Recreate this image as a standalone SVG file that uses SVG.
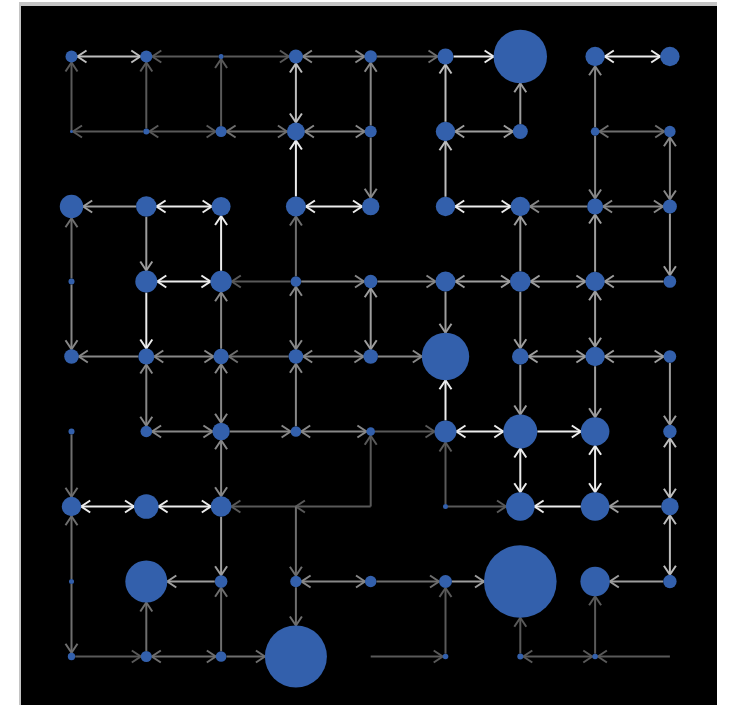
<svg xmlns="http://www.w3.org/2000/svg" width="731" height="705" viewBox="0 0 731 705">
  <style>
    line { stroke-width: 2; fill: none; }
    .g0 { stroke: #595959; marker-end: url(#m0); }
    .g1 { stroke: #6e6e6e; marker-end: url(#m1); }
    .g2 { stroke: #878787; marker-end: url(#m2); }
    .g3 { stroke: #9d9d9d; marker-end: url(#m3); }
    .g4 { stroke: #bdbdbd; marker-end: url(#m4); }
    .g5 { stroke: #ececec; marker-end: url(#m5); }
    .g0.b { marker-start: url(#m0); }
    .g1.b { marker-start: url(#m1); }
    .g2.b { marker-start: url(#m2); }
    .g3.b { marker-start: url(#m3); }
    .g4.b { marker-start: url(#m4); }
    .g5.b { marker-start: url(#m5); }
    .node circle { fill: #3360ac; }
    .ah { fill: none; stroke-width: 2; }
  </style>
  <defs>
    <marker id="m0" viewBox="-11 -8 13 16" markerWidth="13" markerHeight="16" refX="0" refY="0" orient="auto-start-reverse" markerUnits="userSpaceOnUse"><path class="ah" d="M-9,-6 L0,0 L-9,6" stroke="#595959"/></marker>
    <marker id="m1" viewBox="-11 -8 13 16" markerWidth="13" markerHeight="16" refX="0" refY="0" orient="auto-start-reverse" markerUnits="userSpaceOnUse"><path class="ah" d="M-9,-6 L0,0 L-9,6" stroke="#6e6e6e"/></marker>
    <marker id="m2" viewBox="-11 -8 13 16" markerWidth="13" markerHeight="16" refX="0" refY="0" orient="auto-start-reverse" markerUnits="userSpaceOnUse"><path class="ah" d="M-9,-6 L0,0 L-9,6" stroke="#878787"/></marker>
    <marker id="m3" viewBox="-11 -8 13 16" markerWidth="13" markerHeight="16" refX="0" refY="0" orient="auto-start-reverse" markerUnits="userSpaceOnUse"><path class="ah" d="M-9,-6 L0,0 L-9,6" stroke="#9d9d9d"/></marker>
    <marker id="m4" viewBox="-11 -8 13 16" markerWidth="13" markerHeight="16" refX="0" refY="0" orient="auto-start-reverse" markerUnits="userSpaceOnUse"><path class="ah" d="M-9,-6 L0,0 L-9,6" stroke="#bdbdbd"/></marker>
    <marker id="m5" viewBox="-11 -8 13 16" markerWidth="13" markerHeight="16" refX="0" refY="0" orient="auto-start-reverse" markerUnits="userSpaceOnUse"><path class="ah" d="M-9,-6 L0,0 L-9,6" stroke="#ececec"/></marker>
  </defs>

  <!-- frame -->
  <rect x="0" y="0" width="731" height="705" fill="#ffffff"/>
  <rect x="19" y="2" width="698" height="703" fill="#c4c4c4"/>
  <rect x="21" y="6" width="696" height="699" fill="#000000"/>

  <g id="connectors">
    <!-- row 0 -->
    <line class="g4 b" x1="77.5" y1="56.5" x2="140.3" y2="56.5"/>
    <line class="g0" x1="218.6" y1="56.5" x2="152.3" y2="56.5"/>
    <line class="g0" x1="223.6" y1="56.5" x2="288.9" y2="56.5"/>
    <line class="g2 b" x1="302.9" y1="56.5" x2="364.4" y2="56.5"/>
    <line class="g1" x1="377" y1="56.5" x2="437.5" y2="56.5"/>
    <line class="g5" x1="453.5" y1="56.5" x2="493.6" y2="56.5"/>
    <line class="g5 b" x1="604.8" y1="56.5" x2="660.2" y2="56.5"/>
    <!-- rows 0-1 vertical -->
    <line class="g0" x1="71.5" y1="131.5" x2="71.5" y2="62.5"/>
    <line class="g0" x1="146.3" y1="128.5" x2="146.3" y2="62.5"/>
    <line class="g0" x1="221.1" y1="126" x2="221.1" y2="59"/>
    <line class="g4 b" x1="295.9" y1="63.5" x2="295.9" y2="122.5"/>
    <line class="g2" x1="370.7" y1="125.5" x2="370.7" y2="62.8"/>
    <line class="g4" x1="445.5" y1="121.8" x2="445.5" y2="64.5"/>
    <line class="g3" x1="520.3" y1="124" x2="520.3" y2="83.2"/>
    <line class="g2" x1="595.1" y1="127.2" x2="595.1" y2="66.2"/>
    <!-- row 1 -->
    <line class="g0" x1="143.3" y1="131.5" x2="73" y2="131.5"/>
    <line class="g0 b" x1="149.3" y1="131.5" x2="215.6" y2="131.5"/>
    <line class="g1 b" x1="226.6" y1="131.5" x2="286.9" y2="131.5"/>
    <line class="g2 b" x1="304.9" y1="131.5" x2="364.7" y2="131.5"/>
    <line class="g3 b" x1="455.2" y1="131.5" x2="512.8" y2="131.5"/>
    <line class="g1 b" x1="599.4" y1="131.5" x2="664.2" y2="131.5"/>
    <!-- rows 1-2 vertical -->
    <line class="g5" x1="295.9" y1="196.5" x2="295.9" y2="140.5"/>
    <line class="g2" x1="370.7" y1="137.5" x2="370.7" y2="197.8"/>
    <line class="g4" x1="445.5" y1="196.8" x2="445.5" y2="141.2"/>
    <line class="g2" x1="595.1" y1="135.8" x2="595.1" y2="198.5"/>
    <line class="g2 b" x1="669.9" y1="137.2" x2="669.9" y2="199.5"/>
    <!-- row 2 -->
    <line class="g3" x1="136" y1="206.5" x2="83.2" y2="206.5"/>
    <line class="g5 b" x1="156.6" y1="206.5" x2="211.6" y2="206.5"/>
    <line class="g5 b" x1="305.9" y1="206.5" x2="362" y2="206.5"/>
    <line class="g5 b" x1="455.2" y1="206.5" x2="510.6" y2="206.5"/>
    <line class="g2" x1="587.1" y1="206.5" x2="530" y2="206.5"/>
    <line class="g2 b" x1="603.1" y1="206.5" x2="662.9" y2="206.5"/>
    <!-- rows 2-3 vertical -->
    <line class="g1" x1="71.5" y1="278.5" x2="71.5" y2="218.2"/>
    <line class="g3" x1="146.3" y1="216.8" x2="146.3" y2="270.5"/>
    <line class="g5" x1="221.1" y1="270.8" x2="221.1" y2="216"/>
    <line class="g1" x1="295.9" y1="276.2" x2="295.9" y2="216.5"/>
    <line class="g3" x1="520.3" y1="271.2" x2="520.3" y2="216.2"/>
    <line class="g3" x1="595.1" y1="271.8" x2="595.1" y2="214.5"/>
    <line class="g3" x1="669.9" y1="213.5" x2="669.9" y2="275.2"/>
    <!-- row 3 -->
    <line class="g5 b" x1="157.3" y1="281.5" x2="210.4" y2="281.5"/>
    <line class="g0" x1="290.6" y1="281.5" x2="231.8" y2="281.5"/>
    <line class="g2" x1="301.2" y1="281.5" x2="364" y2="281.5"/>
    <line class="g2" x1="377.4" y1="281.5" x2="435.5" y2="281.5"/>
    <line class="g3 b" x1="455.5" y1="281.5" x2="510" y2="281.5"/>
    <line class="g3 b" x1="530.6" y1="281.5" x2="585.4" y2="281.5"/>
    <line class="g3" x1="663.6" y1="281.5" x2="604.8" y2="281.5"/>
    <!-- rows 3-4 vertical -->
    <line class="g2" x1="71.5" y1="284.5" x2="71.5" y2="349.2"/>
    <line class="g5" x1="146.3" y1="292.5" x2="146.3" y2="348.5"/>
    <line class="g2" x1="221.1" y1="348.8" x2="221.1" y2="292.2"/>
    <line class="g2 b" x1="295.9" y1="286.8" x2="295.9" y2="349.2"/>
    <line class="g3 b" x1="370.7" y1="288.2" x2="370.7" y2="349.2"/>
    <line class="g3" x1="445.5" y1="291.5" x2="445.5" y2="332.8"/>
    <line class="g3" x1="520.3" y1="291.8" x2="520.3" y2="348.2"/>
    <line class="g3 b" x1="595.1" y1="291.2" x2="595.1" y2="346.8"/>
    <!-- row 4 -->
    <line class="g2" x1="138.3" y1="356.5" x2="78.8" y2="356.5"/>
    <line class="g2 b" x1="154.3" y1="356.5" x2="213.4" y2="356.5"/>
    <line class="g1" x1="288.6" y1="356.5" x2="228.8" y2="356.5"/>
    <line class="g2 b" x1="303.2" y1="356.5" x2="363.4" y2="356.5"/>
    <line class="g2" x1="378" y1="356.5" x2="421.8" y2="356.5"/>
    <line class="g3 b" x1="528.6" y1="356.5" x2="585.4" y2="356.5"/>
    <line class="g3 b" x1="604.8" y1="356.5" x2="663.6" y2="356.5"/>
    <!-- rows 4-5 vertical -->
    <line class="g2 b" x1="146.3" y1="364.5" x2="146.3" y2="425.7"/>
    <line class="g2 b" x1="221.1" y1="364.2" x2="221.1" y2="422.8"/>
    <line class="g2" x1="295.9" y1="426.2" x2="295.9" y2="363.8"/>
    <line class="g5" x1="445.5" y1="420.5" x2="445.5" y2="380.2"/>
    <line class="g3" x1="520.3" y1="364.8" x2="520.3" y2="414.5"/>
    <line class="g3" x1="595.1" y1="366.2" x2="595.1" y2="417.2"/>
    <line class="g3" x1="669.9" y1="362.8" x2="669.9" y2="424.8"/>
    <!-- row 5 -->
    <line class="g2 b" x1="152.1" y1="431.5" x2="212.4" y2="431.5"/>
    <line class="g2" x1="229.8" y1="431.5" x2="290.6" y2="431.5"/>
    <line class="g2 b" x1="301.2" y1="431.5" x2="366.4" y2="431.5"/>
    <line class="g0" x1="375" y1="431.5" x2="434.5" y2="431.5"/>
    <line class="g5 b" x1="456.5" y1="431.5" x2="503.3" y2="431.5"/>
    <line class="g5" x1="537.3" y1="431.5" x2="580.8" y2="431.5"/>
    <!-- rows 5-6 vertical -->
    <line class="g1" x1="71.5" y1="434.5" x2="71.5" y2="496.8"/>
    <line class="g2 b" x1="221.1" y1="440.2" x2="221.1" y2="496.2"/>
    <line class="g0" x1="370.7" y1="506.5" x2="370.7" y2="435.8"/>
    <line class="g0" x1="445.5" y1="504" x2="445.5" y2="442.5"/>
    <line class="g5 b" x1="520.3" y1="448.5" x2="520.3" y2="492.2"/>
    <line class="g5 b" x1="595.1" y1="445.8" x2="595.1" y2="492.2"/>
    <line class="g4 b" x1="669.9" y1="438.2" x2="669.9" y2="497.8"/>
    <!-- row 6 -->
    <line class="g5 b" x1="81.2" y1="506.5" x2="134" y2="506.5"/>
    <line class="g5 b" x1="158.6" y1="506.5" x2="210.8" y2="506.5"/>
    <line class="g0" x1="295.9" y1="506.5" x2="231.4" y2="506.5"/>
    <line class="g0" x1="370.7" y1="506.5" x2="295.9" y2="506.5"/>
    <line class="g0" x1="448" y1="506.5" x2="506" y2="506.5"/>
    <line class="g5" x1="580.8" y1="506.5" x2="534.6" y2="506.5"/>
    <line class="g3" x1="661.2" y1="506.5" x2="609.4" y2="506.5"/>
    <!-- rows 6-7 vertical -->
    <line class="g1" x1="71.5" y1="579" x2="71.5" y2="516.2"/>
    <line class="g3" x1="221.1" y1="516.8" x2="221.1" y2="575.2"/>
    <line class="g1" x1="295.9" y1="506.5" x2="295.9" y2="575.8"/>
    <line class="g4 b" x1="669.9" y1="515.2" x2="669.9" y2="574.8"/>
    <!-- row 7 -->
    <line class="g3" x1="214.8" y1="581.5" x2="167.3" y2="581.5"/>
    <line class="g2 b" x1="301.6" y1="581.5" x2="365" y2="581.5"/>
    <line class="g1" x1="376.4" y1="581.5" x2="439" y2="581.5"/>
    <line class="g3" x1="452" y1="581.5" x2="484" y2="581.5"/>
    <line class="g3" x1="663.2" y1="581.5" x2="609.8" y2="581.5"/>
    <!-- rows 7-8 vertical -->
    <line class="g1" x1="71.5" y1="584" x2="71.5" y2="652.8"/>
    <line class="g1" x1="146.3" y1="651" x2="146.3" y2="602.5"/>
    <line class="g1" x1="221.1" y1="651.2" x2="221.1" y2="587.8"/>
    <line class="g1" x1="295.9" y1="587.2" x2="295.9" y2="625.5"/>
    <line class="g0" x1="445.5" y1="653.7" x2="445.5" y2="588"/>
    <line class="g0" x1="520.3" y1="653.5" x2="520.3" y2="617.8"/>
    <line class="g0" x1="595.1" y1="653.7" x2="595.1" y2="596.2"/>
    <!-- row 8 -->
    <line class="g0" x1="75.2" y1="656.5" x2="140.8" y2="656.5"/>
    <line class="g1 b" x1="151.8" y1="656.5" x2="215.8" y2="656.5"/>
    <line class="g1" x1="226.4" y1="656.5" x2="264.9" y2="656.5"/>
    <line class="g0" x1="370.7" y1="656.5" x2="442.7" y2="656.5"/>
    <line class="g0 b" x1="523.3" y1="656.5" x2="592.3" y2="656.5"/>
    <line class="g0" x1="669.9" y1="656.5" x2="597.9" y2="656.5"/>
  </g>

  <!-- nodes: n{column}{row} -->
  <g id="n00" class="node"><circle cx="71.5" cy="56.5" r="6"/></g>
  <g id="n10" class="node"><circle cx="146.3" cy="56.5" r="6"/></g>
  <g id="n20" class="node"><circle cx="221.1" cy="56.5" r="2.5"/></g>
  <g id="n30" class="node"><circle cx="295.9" cy="56.5" r="7"/></g>
  <g id="n40" class="node"><circle cx="370.7" cy="56.5" r="6.3"/></g>
  <g id="n50" class="node"><circle cx="445.5" cy="56.5" r="8"/></g>
  <g id="n60" class="node"><circle cx="520.3" cy="56.5" r="26.7"/></g>
  <g id="n70" class="node"><circle cx="595.1" cy="56.5" r="9.7"/></g>
  <g id="n80" class="node"><circle cx="669.9" cy="56.5" r="9.7"/></g>

  <g id="n01" class="node"><circle cx="71.5" cy="131.5" r="1.5"/></g>
  <g id="n11" class="node"><circle cx="146.3" cy="131.5" r="3"/></g>
  <g id="n21" class="node"><circle cx="221.1" cy="131.5" r="5.5"/></g>
  <g id="n31" class="node"><circle cx="295.9" cy="131.5" r="9"/></g>
  <g id="n41" class="node"><circle cx="370.7" cy="131.5" r="6"/></g>
  <g id="n51" class="node"><circle cx="445.5" cy="131.5" r="9.7"/></g>
  <g id="n61" class="node"><circle cx="520.3" cy="131.5" r="7.5"/></g>
  <g id="n71" class="node"><circle cx="595.1" cy="131.5" r="4.3"/></g>
  <g id="n81" class="node"><circle cx="669.9" cy="131.5" r="5.7"/></g>

  <g id="n02" class="node"><circle cx="71.5" cy="206.5" r="11.7"/></g>
  <g id="n12" class="node"><circle cx="146.3" cy="206.5" r="10.3"/></g>
  <g id="n22" class="node"><circle cx="221.1" cy="206.5" r="9.5"/></g>
  <g id="n32" class="node"><circle cx="295.9" cy="206.5" r="10"/></g>
  <g id="n42" class="node"><circle cx="370.7" cy="206.5" r="8.7"/></g>
  <g id="n52" class="node"><circle cx="445.5" cy="206.5" r="9.7"/></g>
  <g id="n62" class="node"><circle cx="520.3" cy="206.5" r="9.7"/></g>
  <g id="n72" class="node"><circle cx="595.1" cy="206.5" r="8"/></g>
  <g id="n82" class="node"><circle cx="669.9" cy="206.5" r="7"/></g>

  <g id="n03" class="node"><circle cx="71.5" cy="281.5" r="3"/></g>
  <g id="n13" class="node"><circle cx="146.3" cy="281.5" r="11"/></g>
  <g id="n23" class="node"><circle cx="221.1" cy="281.5" r="10.7"/></g>
  <g id="n33" class="node"><circle cx="295.9" cy="281.5" r="5.3"/></g>
  <g id="n43" class="node"><circle cx="370.7" cy="281.5" r="6.7"/></g>
  <g id="n53" class="node"><circle cx="445.5" cy="281.5" r="10"/></g>
  <g id="n63" class="node"><circle cx="520.3" cy="281.5" r="10.3"/></g>
  <g id="n73" class="node"><circle cx="595.1" cy="281.5" r="9.7"/></g>
  <g id="n83" class="node"><circle cx="669.9" cy="281.5" r="6.3"/></g>

  <g id="n04" class="node"><circle cx="71.5" cy="356.5" r="7.3"/></g>
  <g id="n14" class="node"><circle cx="146.3" cy="356.5" r="8"/></g>
  <g id="n24" class="node"><circle cx="221.1" cy="356.5" r="7.7"/></g>
  <g id="n34" class="node"><circle cx="295.9" cy="356.5" r="7.3"/></g>
  <g id="n44" class="node"><circle cx="370.7" cy="356.5" r="7.3"/></g>
  <g id="n54" class="node"><circle cx="445.5" cy="356.5" r="23.7"/></g>
  <g id="n64" class="node"><circle cx="520.3" cy="356.5" r="8.3"/></g>
  <g id="n74" class="node"><circle cx="595.1" cy="356.5" r="9.7"/></g>
  <g id="n84" class="node"><circle cx="669.9" cy="356.5" r="6.3"/></g>

  <g id="n05" class="node"><circle cx="71.5" cy="431.5" r="3"/></g>
  <g id="n15" class="node"><circle cx="146.3" cy="431.5" r="5.8"/></g>
  <g id="n25" class="node"><circle cx="221.1" cy="431.5" r="8.7"/></g>
  <g id="n35" class="node"><circle cx="295.9" cy="431.5" r="5.3"/></g>
  <g id="n45" class="node"><circle cx="370.7" cy="431.5" r="4.3"/></g>
  <g id="n55" class="node"><circle cx="445.5" cy="431.5" r="11"/></g>
  <g id="n65" class="node"><circle cx="520.3" cy="431.5" r="17"/></g>
  <g id="n75" class="node"><circle cx="595.1" cy="431.5" r="14.3"/></g>
  <g id="n85" class="node"><circle cx="669.9" cy="431.5" r="6.7"/></g>

  <g id="n06" class="node"><circle cx="71.5" cy="506.5" r="9.7"/></g>
  <g id="n16" class="node"><circle cx="146.3" cy="506.5" r="12.3"/></g>
  <g id="n26" class="node"><circle cx="221.1" cy="506.5" r="10.3"/></g>
  <g id="n56" class="node"><circle cx="445.5" cy="506.5" r="2.5"/></g>
  <g id="n66" class="node"><circle cx="520.3" cy="506.5" r="14.3"/></g>
  <g id="n76" class="node"><circle cx="595.1" cy="506.5" r="14.3"/></g>
  <g id="n86" class="node"><circle cx="669.9" cy="506.5" r="8.7"/></g>

  <g id="n07" class="node"><circle cx="71.5" cy="581.5" r="2.5"/></g>
  <g id="n17" class="node"><circle cx="146.3" cy="581.5" r="21"/></g>
  <g id="n27" class="node"><circle cx="221.1" cy="581.5" r="6.3"/></g>
  <g id="n37" class="node"><circle cx="295.9" cy="581.5" r="5.7"/></g>
  <g id="n47" class="node"><circle cx="370.7" cy="581.5" r="5.7"/></g>
  <g id="n57" class="node"><circle cx="445.5" cy="581.5" r="6.5"/></g>
  <g id="n67" class="node"><circle cx="520.3" cy="581.5" r="36.3"/></g>
  <g id="n77" class="node"><circle cx="595.1" cy="581.5" r="14.7"/></g>
  <g id="n87" class="node"><circle cx="669.9" cy="581.5" r="6.7"/></g>

  <g id="n08" class="node"><circle cx="71.5" cy="656.5" r="3.7"/></g>
  <g id="n18" class="node"><circle cx="146.3" cy="656.5" r="5.5"/></g>
  <g id="n28" class="node"><circle cx="221.1" cy="656.5" r="5.3"/></g>
  <g id="n38" class="node"><circle cx="295.9" cy="656.5" r="31"/></g>
  <g id="n58" class="node"><circle cx="445.5" cy="656.5" r="2.8"/></g>
  <g id="n68" class="node"><circle cx="520.3" cy="656.5" r="3"/></g>
  <g id="n78" class="node"><circle cx="595.1" cy="656.5" r="2.8"/></g>
</svg>
